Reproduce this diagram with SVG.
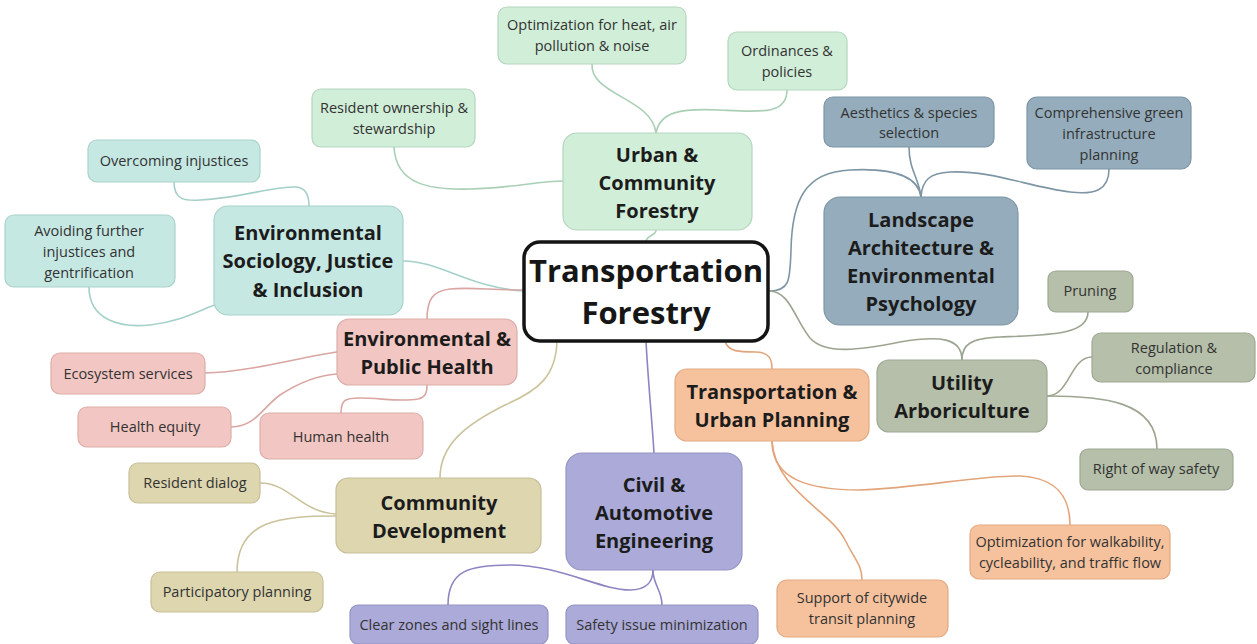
<svg xmlns="http://www.w3.org/2000/svg" width="1257" height="644" viewBox="0 0 1257 644">
  <style>
    text { font-family: "Open Sans", "Noto Sans", "Liberation Sans", sans-serif; text-anchor: middle; }
    .c { font-size: 31px; font-weight: 700; fill: #161616; }
    .m { font-size: 20px; font-weight: 700; fill: #1c1c1c; }
    .l { font-size: 14.5px; fill: #333333; }
    .lnk { fill: none; stroke-width: 1.6; stroke-linecap: round; }
    .box { stroke-width: 1.2; }
    .green rect { fill: #d1eed9; stroke: #b5d6be; }
    .teal rect { fill: #c6e8e3; stroke: #a9d2cb; }
    .blue rect { fill: #94acbb; stroke: #7d95a4; }
    .pink rect { fill: #f2c6c2; stroke: #dcaeaa; }
    .tan rect { fill: #ddd6af; stroke: #c6bf99; }
    .lav rect { fill: #abaad8; stroke: #9693c4; }
    .orng rect { fill: #f6c29d; stroke: #e2aa82; }
    .sage rect { fill: #b5bfa9; stroke: #9ea893; }
    .kg { stroke: #a9cfb5; }
    .kt { stroke: #a5d0c9; }
    .kb { stroke: #7e95a4; }
    .kp { stroke: #d9a6a3; }
    .kn { stroke: #cbc39c; }
    .kl { stroke: #8c85c2; }
    .ko { stroke: #e2a57b; }
    .ks { stroke: #9ca590; }
  </style>

  <!-- connectors -->
  <g id="connectors">
    <!-- Urban & Community Forestry -->
    <path class="lnk kg" d="M 646 242 C 646 235, 656 236, 656 230"/>
    <path class="lnk kg" d="M 592 64 C 590 95, 652 98, 656 133"/>
    <path class="lnk kg" d="M 787 90 C 787 115, 760 112, 720 110 C 680 108, 660 112, 656 133"/>
    <path class="lnk kg" d="M 394 147 C 396 185, 430 190, 470 189 C 510 188, 540 181, 563 181"/>
    <!-- Environmental Sociology -->
    <path class="lnk kt" d="M 403 261 C 440 261, 470 288, 524 291"/>
    <path class="lnk kt" d="M 174 182 C 174 200, 185 201, 200 200 C 240 198, 270 187, 295 187 C 305 187, 309 195, 309 206"/>
    <path class="lnk kt" d="M 89 287 C 89 320, 120 328, 150 325 C 180 322, 200 310, 217 304"/>
    <!-- Landscape Architecture -->
    <path class="lnk kb" d="M 769 291 C 790 291, 790 280, 791 250 C 792 200, 805 172, 850 170 C 890 168, 918 175, 921 197"/>
    <path class="lnk kb" d="M 909 147 C 909 170, 919 178, 921 197"/>
    <path class="lnk kb" d="M 1109 169 C 1109 190, 1095 195, 1070 192 C 1030 187, 990 170, 950 172 C 930 173, 922 180, 921 197"/>
    <!-- Environmental & Public Health -->
    <path class="lnk kp" d="M 524 290 C 490 290, 470 287, 450 289 C 432 291, 427 300, 427 320"/>
    <path class="lnk kp" d="M 205 373 C 250 372, 300 357, 337 352"/>
    <path class="lnk kp" d="M 231 427 C 255 427, 262 408, 280 395 C 300 382, 320 375, 337 374"/>
    <path class="lnk kp" d="M 341 413 C 341 400, 345 398, 360 398 C 380 398, 400 402, 418 399 C 427 397, 427 390, 427 385"/>
    <!-- Community Development -->
    <path class="lnk kn" d="M 557 341 C 556 375, 540 390, 505 405 C 465 425, 440 445, 440 478"/>
    <path class="lnk kn" d="M 260 483 C 290 483, 300 512, 336 514"/>
    <path class="lnk kn" d="M 237 572 C 237 520, 280 516, 336 516"/>
    <!-- Civil & Automotive Engineering -->
    <path class="lnk kl" d="M 646 341 C 648 380, 652 420, 654 453"/>
    <path class="lnk kl" d="M 448 605 C 448 570, 470 565, 510 565 C 560 565, 600 590, 630 590 C 648 590, 653 580, 653 570"/>
    <path class="lnk kl" d="M 653 570 C 653 585, 662 590, 662 605"/>
    <!-- Transportation & Urban Planning -->
    <path class="lnk ko" d="M 725 341 C 728 352, 740 352, 755 352 C 770 352, 772 360, 772 369"/>
    <path class="lnk ko" d="M 772 441 C 772 480, 810 490, 860 490 C 920 488, 980 475, 1020 476 C 1060 478, 1070 500, 1070 525"/>
    <path class="lnk ko" d="M 772 441 C 775 490, 830 510, 845 540 C 855 560, 862 565, 862 580"/>
    <!-- Utility Arboriculture -->
    <path class="lnk ks" d="M 769 291 C 790 291, 795 320, 810 338 C 825 355, 860 350, 900 342 C 940 335, 962 338, 962 360"/>
    <path class="lnk ks" d="M 1088 312 C 1088 335, 1050 335, 1000 337 C 970 338, 962 345, 962 360"/>
    <path class="lnk ks" d="M 1047 396 C 1070 396, 1070 357, 1092 357"/>
    <path class="lnk ks" d="M 1047 396 C 1100 396, 1157 400, 1157 449"/>
  </g>

  <!-- central topic -->
  <g id="center">
    <rect x="524" y="242" width="244" height="99" rx="16" fill="#ffffff" stroke="#141414" stroke-width="3.5"/>
    <text class="c" x="646" y="282">Transportation</text>
    <text class="c" x="646" y="324">Forestry</text>
  </g>

  <!-- Urban & Community Forestry -->
  <g id="urban-forestry" class="green">
    <rect class="box" x="563" y="133" width="189" height="97" rx="14"/>
    <text class="m" x="657" y="162">Urban &amp;</text>
    <text class="m" x="657" y="190">Community</text>
    <text class="m" x="657" y="218">Forestry</text>
  </g>
  <g id="opt-heat" class="green">
    <rect class="box" x="498" y="7" width="188" height="57" rx="9"/>
    <text class="l" x="592" y="30">Optimization for heat, air</text>
    <text class="l" x="592" y="51">pollution &amp; noise</text>
  </g>
  <g id="ordinances" class="green">
    <rect class="box" x="728" y="32" width="119" height="58" rx="9"/>
    <text class="l" x="787" y="56">Ordinances &amp;</text>
    <text class="l" x="787" y="77">policies</text>
  </g>
  <g id="resident-ownership" class="green">
    <rect class="box" x="312" y="89" width="163" height="58" rx="9"/>
    <text class="l" x="394" y="113">Resident ownership &amp;</text>
    <text class="l" x="394" y="134">stewardship</text>
  </g>

  <!-- Environmental Sociology, Justice & Inclusion -->
  <g id="env-sociology" class="teal">
    <rect class="box" x="214" y="206" width="189" height="109" rx="14"/>
    <text class="m" x="308" y="240">Environmental</text>
    <text class="m" x="308" y="268">Sociology, Justice</text>
    <text class="m" x="308" y="297">&amp; Inclusion</text>
  </g>
  <g id="overcoming" class="teal">
    <rect class="box" x="88" y="140" width="172" height="42" rx="9"/>
    <text class="l" x="174" y="166">Overcoming injustices</text>
  </g>
  <g id="avoiding" class="teal">
    <rect class="box" x="5" y="215" width="170" height="72" rx="9"/>
    <text class="l" x="89" y="236">Avoiding further</text>
    <text class="l" x="89" y="257">injustices and</text>
    <text class="l" x="89" y="278">gentrification</text>
  </g>

  <!-- Landscape Architecture & Environmental Psychology -->
  <g id="landscape" class="blue">
    <rect class="box" x="824" y="197" width="194" height="128" rx="16"/>
    <text class="m" x="921" y="227">Landscape</text>
    <text class="m" x="921" y="255">Architecture &amp;</text>
    <text class="m" x="921" y="283">Environmental</text>
    <text class="m" x="921" y="311">Psychology</text>
  </g>
  <g id="aesthetics" class="blue">
    <rect class="box" x="824" y="97" width="170" height="50" rx="9"/>
    <text class="l" x="909" y="118">Aesthetics &amp; species</text>
    <text class="l" x="909" y="138">selection</text>
  </g>
  <g id="green-infrastructure" class="blue">
    <rect class="box" x="1027" y="97" width="164" height="72" rx="10"/>
    <text class="l" x="1109" y="118">Comprehensive green</text>
    <text class="l" x="1109" y="139">infrastructure</text>
    <text class="l" x="1109" y="160">planning</text>
  </g>

  <!-- Environmental & Public Health -->
  <g id="public-health" class="pink">
    <rect class="box" x="337" y="319" width="180" height="66" rx="12"/>
    <text class="m" x="427" y="346">Environmental &amp;</text>
    <text class="m" x="427" y="374">Public Health</text>
  </g>
  <g id="ecosystem" class="pink">
    <rect class="box" x="51" y="353" width="154" height="41" rx="9"/>
    <text class="l" x="128" y="379">Ecosystem services</text>
  </g>
  <g id="health-equity" class="pink">
    <rect class="box" x="78" y="407" width="153" height="40" rx="9"/>
    <text class="l" x="155" y="432">Health equity</text>
  </g>
  <g id="human-health" class="pink">
    <rect class="box" x="260" y="413" width="163" height="46" rx="9"/>
    <text class="l" x="341" y="442">Human health</text>
  </g>

  <!-- Community Development -->
  <g id="community-dev" class="tan">
    <rect class="box" x="336" y="478" width="205" height="75" rx="12"/>
    <text class="m" x="439" y="510">Community</text>
    <text class="m" x="439" y="538">Development</text>
  </g>
  <g id="resident-dialog" class="tan">
    <rect class="box" x="129" y="463" width="131" height="40" rx="9"/>
    <text class="l" x="195" y="488">Resident dialog</text>
  </g>
  <g id="participatory" class="tan">
    <rect class="box" x="151" y="572" width="172" height="40" rx="9"/>
    <text class="l" x="237" y="597">Participatory planning</text>
  </g>

  <!-- Civil & Automotive Engineering -->
  <g id="civil-eng" class="lav">
    <rect class="box" x="566" y="453" width="176" height="117" rx="16"/>
    <text class="m" x="654" y="492">Civil &amp;</text>
    <text class="m" x="654" y="520">Automotive</text>
    <text class="m" x="654" y="548">Engineering</text>
  </g>
  <g id="clear-zones" class="lav">
    <rect class="box" x="350" y="605" width="198" height="39" rx="8"/>
    <text class="l" x="449" y="630">Clear zones and sight lines</text>
  </g>
  <g id="safety-issue" class="lav">
    <rect class="box" x="566" y="605" width="192" height="39" rx="8"/>
    <text class="l" x="662" y="630">Safety issue minimization</text>
  </g>

  <!-- Transportation & Urban Planning -->
  <g id="transport-planning" class="orng">
    <rect class="box" x="675" y="369" width="194" height="72" rx="12"/>
    <text class="m" x="772" y="399">Transportation &amp;</text>
    <text class="m" x="772" y="427">Urban Planning</text>
  </g>
  <g id="opt-walkability" class="orng">
    <rect class="box" x="970" y="525" width="200" height="54" rx="9"/>
    <text class="l" x="1070" y="547">Optimization for walkability,</text>
    <text class="l" x="1070" y="568">cycleability, and traffic flow</text>
  </g>
  <g id="transit-support" class="orng">
    <rect class="box" x="777" y="580" width="171" height="57" rx="10"/>
    <text class="l" x="862" y="603">Support of citywide</text>
    <text class="l" x="862" y="624">transit planning</text>
  </g>

  <!-- Utility Arboriculture -->
  <g id="utility-arbor" class="sage">
    <rect class="box" x="877" y="360" width="170" height="72" rx="12"/>
    <text class="m" x="962" y="390">Utility</text>
    <text class="m" x="962" y="418">Arboriculture</text>
  </g>
  <g id="pruning" class="sage">
    <rect class="box" x="1048" y="271" width="85" height="41" rx="8"/>
    <text class="l" x="1090" y="296">Pruning</text>
  </g>
  <g id="regulation" class="sage">
    <rect class="box" x="1092" y="333" width="163" height="49" rx="9"/>
    <text class="l" x="1174" y="353">Regulation &amp;</text>
    <text class="l" x="1174" y="374">compliance</text>
  </g>
  <g id="right-of-way" class="sage">
    <rect class="box" x="1080" y="449" width="153" height="41" rx="8"/>
    <text class="l" x="1156" y="474">Right of way safety</text>
  </g>
</svg>
